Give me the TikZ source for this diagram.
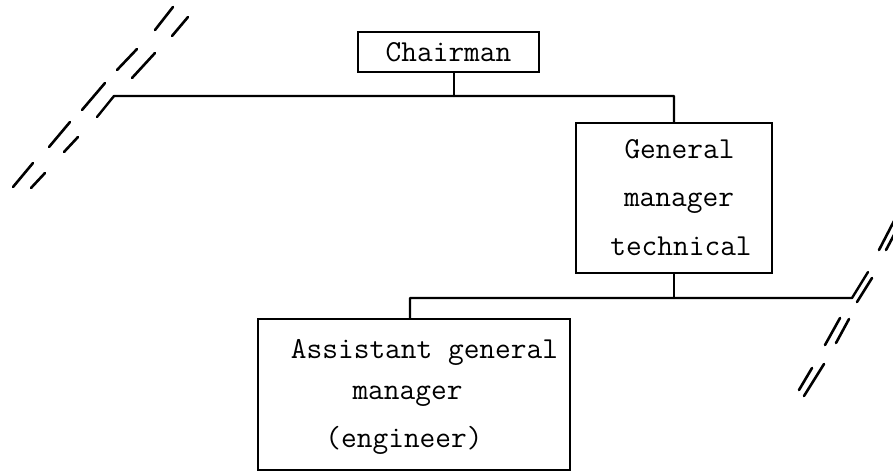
\documentclass[tikz,border=0pt]{standalone}
\begin{document}
\begin{tikzpicture}[x=1pt,y=-1pt,
  box/.style={draw, line width=1.6pt, rectangle, inner sep=0pt},
  tt/.style={font=\ttfamily\fontsize{30.5}{36}\selectfont},
  txt/.style={tt, inner sep=0pt, anchor=base},
  conn/.style={line width=2.4pt, line join=round, line cap=round},
  slash/.style={line width=2.6pt, line cap=round}]
\useasboundingbox (0,0) rectangle (893,471);

% boxes
\node[box, tt, minimum width=181pt, minimum height=40pt] (chair) at (448.5,52) {Chairman};
\node[box, minimum width=196pt, minimum height=150pt] (gm) at (674,198) {};
\node[box, minimum width=312pt, minimum height=151pt] (asst) at (414,394.5) {};

% box texts
\node[txt] (gmA) at (679.5,158) {General};
\node[txt] (gmB) at (679,206) {manager};
\node[txt] (gmC) at (681,255) {technical};
\node[txt] (asA) at (424.5,358) {Assistant general};
\node[txt] (asB) at (407.5,399) {manager};
\node[txt] (asC) at (404,447) {(engineer)};

% upper line
\coordinate (lturn) at (114,96);
\coordinate (lfoot) at (97,117);
\draw[conn] (lfoot) -- (lturn) -- (lturn -| gm.north) -- (gm.north);
\draw[conn] ([xshift=5.5pt]chair.south) -- ([xshift=5.5pt]chair.south |- lturn);

% lower line
\coordinate (rturn) at (852,298);
\coordinate (rtop) at (868,272);
\draw[conn] (gm.south) -- (gm.south |- rturn);
\draw[conn] ([xshift=-4pt]asst.north) -- ([xshift=-4pt]asst.north |- rturn) -- (rturn) -- (rtop);

% break marks, left
\foreach \xa/\ya/\xb/\yb in {173/7/155/30, 137/49/117/70, 105/83/82/110, 70/122/49/147, 33/163/13/187,
                            188/17/172/36, 155/53/132/78, 78/137/64/152, 45/173/31/188}
  \draw[slash] (\xa,\ya) -- (\xb,\yb);

% break marks, right
\foreach \xa/\ya/\xb/\yb in {879/250/894/221, 840/318/825/345, 812/368/799/390,
                            857/302/872/278, 886/250/895/233, 849/319/836/343, 824/364/804/396}
  \draw[slash] (\xa,\ya) -- (\xb,\yb);
\end{tikzpicture}
\end{document}
